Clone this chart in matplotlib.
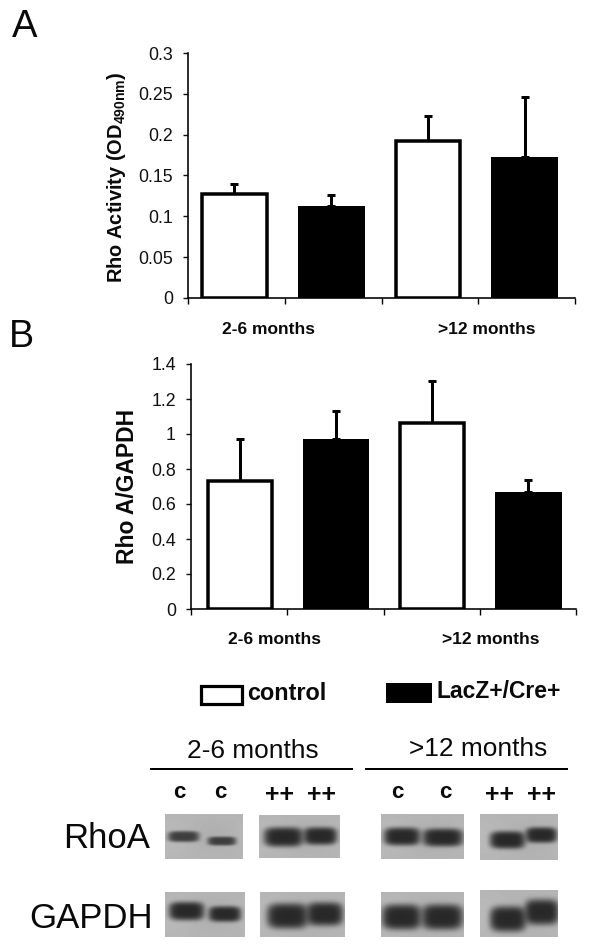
import numpy as np
import matplotlib
matplotlib.use("Agg")
import matplotlib.pyplot as plt
from matplotlib.patches import Rectangle
from matplotlib.lines import Line2D

plt.rcParams['font.family'] = ['Liberation Sans', 'DejaVu Sans']
plt.rcParams['mathtext.fontset'] = 'custom'
plt.rcParams['mathtext.bf'] = 'Liberation Sans:bold'
plt.rcParams['mathtext.rm'] = 'Liberation Sans'

W, H = 590, 949
PX = 72 / 100

# ---- data
groups = ['2-6 months', '>12 months']
activity_values = [0.127, 0.113, 0.192, 0.173]
activity_tops = [0.139, 0.126, 0.223, 0.246]
activity_ticks = [0, 0.05, 0.1, 0.15, 0.2, 0.25, 0.3]
activity_labels = ['0', '0.05', '0.1', '0.15', '0.2', '0.25', '0.3']
ratio_values = [0.73, 0.97, 1.06, 0.67]
ratio_tops = [0.97, 1.13, 1.30, 0.74]
ratio_ticks = [0, 0.2, 0.4, 0.6, 0.8, 1, 1.2, 1.4]
ratio_labels = ['0', '0.2', '0.4', '0.6', '0.8', '1', '1.2', '1.4']
bar_is_black = [False, True, False, True]
legend_names = ['control', 'LacZ+/Cre+']
lane_marks = ['c', 'c', '++', '++', 'c', 'c', '++', '++']

# blot panels: (left, right, top, bottom) in image pixels
rho_panels = [(165, 243, 814, 859), (259, 340, 815, 858), (381, 464, 814, 859), (480, 558, 814, 860)]
gapdh_panels = [(165, 245, 892, 937), (260, 345, 892, 937), (381, 464, 892, 937), (480, 558, 890, 937)]
# bands: (x0, x1, y centre, half height, strength)
rho_bands = [[(169, 198, 837, 5.5, .85), (209, 235, 841.5, 4.5, .85)],
             [(265, 302, 837, 10, 1.0), (305, 336, 836, 9, 1.0)],
             [(385, 419, 837, 9, 1.0), (424, 462, 838, 9, 1.0)],
             [(491, 524, 840, 9, 1.0), (527, 556, 835, 8, 1.0)]]
gapdh_bands = [[(170, 203, 911, 9.5, 1.0), (210, 240, 914, 8, 1.0)],
               [(268, 307, 916, 13, 1.0), (308, 342, 914, 12, 1.0)],
               [(383, 420, 917, 13, 1.0), (423, 462, 917, 13, 1.0)],
               [(491, 525, 919, 13, 1.0), (526, 558, 912, 13, 1.0)]]


def box(l, r, t, b):
    return [l / W, 1 - b / H, (r - l) / W, (b - t) / H]


def label(x, y, s, size, weight='normal', **kw):
    return fig.text(x / W, 1 - y / H, s, fontsize=size, fontweight=weight,
                    ha=kw.pop('ha', 'center'), va=kw.pop('va', 'center'), color='#0a0a0a', **kw)


fig = plt.figure(figsize=(W / 100, H / 100), dpi=100, facecolor='white')


def bars(rect, values, tops, ticks, ticklabels, ymax, pad, shift):
    ax = fig.add_axes(box(*rect))
    ax.set_xlim(0, 4)
    ax.set_ylim(0, ymax)
    xs = np.arange(len(values)) + 0.5 + shift
    for x, v, t, black in zip(xs, values, tops, bar_is_black):
        ax.errorbar([x], [v], yerr=[[0], [t - v]], color='black', elinewidth=3 * PX,
                    capsize=2.6, capthick=3 * PX, zorder=1)
        if black:
            ax.bar(x, v, width=0.69, color='black', zorder=2)
        else:
            ax.bar(x, v, width=0.665, facecolor='white', edgecolor='black',
                   linewidth=3.5 * PX, zorder=2)
    for s in ('top', 'right'):
        ax.spines[s].set_visible(False)
    for s in ('left', 'bottom'):
        ax.spines[s].set_linewidth(1.6 * PX)
    ax.set_xticks(range(5))
    ax.set_xticklabels([])
    ax.set_yticks(ticks)
    ax.set_yticklabels(ticklabels, fontsize=12.8)
    ax.tick_params(length=5.5 * PX, width=1.4 * PX)
    ax.tick_params(axis='y', pad=pad, colors='#111111')
    ax.patch.set_alpha(0)
    return ax


bars((188, 575, 53, 298), activity_values, activity_tops, activity_ticks, activity_labels, 0.3, 7, -0.02)
bars((191, 576, 364, 609), ratio_values, ratio_tops, ratio_ticks, ratio_labels, 1.4, 7, 0.005)

# panel letters
label(25, 27, 'A', 27.5)
label(21, 337, 'B', 27)

# axis titles
label(116, 177, r'Rho Activity (OD$_{\mathbf{490nm}}$)', 14.4, 'bold', rotation=90)
label(128, 486, 'Rho A/GAPDH', 16.5, 'bold', rotation=90)

# group labels
label(269, 330, groups[0], 12.5, 'bold')
label(487, 330, groups[1], 12.5, 'bold')
label(274, 639, groups[0], 12.5, 'bold')
label(491, 639, groups[1], 12.5, 'bold')

# legend
fig.add_artist(Rectangle((200.5 / W, 1 - 704 / H), 41 / W, 18 / H, transform=fig.transFigure,
                         facecolor='white', edgecolor='black', linewidth=3.2 * PX))
fig.add_artist(Rectangle((386 / W, 1 - 703 / H), 46 / W, 20 / H, transform=fig.transFigure,
                         facecolor='black', edgecolor='none'))
label(247, 694, legend_names[0], 16.8, 'bold', ha='left')
label(436, 692, legend_names[1], 16.5, 'bold', ha='left')

# blot section headers
label(253, 751, groups[0], 18.9)
label(478, 749, groups[1], 18.9)
for x0, x1 in ((151, 352), (366, 567)):
    fig.add_artist(Line2D([x0 / W, x1 / W], [1 - 769 / H] * 2, color='black', linewidth=2 * PX,
                          transform=fig.transFigure))

lane_x = [179, 220, 279, 322, 397, 445, 500, 542]
for x, m in zip(lane_x, lane_marks):
    if m == 'c':
        label(x, 792, m, 16, 'bold')
    else:
        label(x, 795, m, 18, 'bold')

label(107, 838, 'RhoA', 25, ha='center')
label(91, 919, 'GAPDH', 25, ha='center')


def blot(rect, bands):
    l, r, t, b = rect
    yy, xx = np.mgrid[t:b:complex(0, (b - t) * 2), l:r:complex(0, (r - l) * 2)]
    img = 0.71 + 0.02 * np.cos((xx - l) / (r - l) * 5) * np.sin((yy - t) / (b - t) * 3)
    for x0, x1, yc, hh, s in bands:
        cx, hw = (x0 + x1) / 2, (x1 - x0) / 2 + 1.5
        d = np.abs((xx - cx) / hw) ** 4 + np.abs((yy - yc) / hh) ** 3
        img = img - (img - 0.16) * s * np.exp(-d ** 1.5)
    ax = fig.add_axes(box(*rect))
    ax.imshow(img, cmap='gray', vmin=0, vmax=1, aspect='auto', interpolation='bilinear')
    ax.axis('off')


for rect, bands in zip(rho_panels + gapdh_panels, rho_bands + gapdh_bands):
    blot(rect, bands)

fig.savefig('out.png', dpi=100, facecolor='white')
